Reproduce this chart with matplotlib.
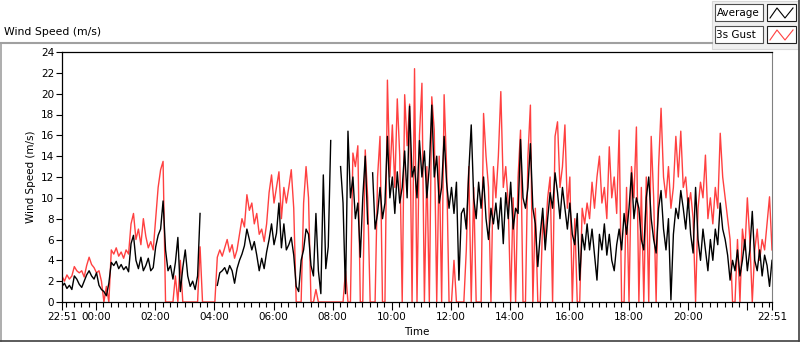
import numpy as np
import matplotlib
matplotlib.use('Agg')
import matplotlib.pyplot as plt
from matplotlib.lines import Line2D
from matplotlib.patches import Rectangle

plt.rcParams['font.family'] = 'DejaVu Sans'

nan = np.nan

# 5-minute samples starting 22:51
sample_minutes = 5

average = [
    1.5, 1.8, 1.3, 1.6, 1.2, 2.5, 2.2, 1.7, 1.4, 2.0,
    2.6, 3.0, 2.5, 2.2, 2.8, 1.6, 1.2, 1.0, 0.6, 1.8,
    3.8, 3.5, 3.9, 3.2, 3.6, 3.1, 3.4, 2.9, 5.6, 6.4,
    4.0, 3.2, 4.3, 3.0, 3.5, 4.2, 3.0, 3.3, 5.3, 6.4,
    7.0, 9.7, 5.0, 3.0, 3.5, 2.2, 3.8, 6.2, 1.0, 3.3,
    5.0, 2.5, 1.5, 2.0, 1.2, 2.5, 8.5, nan, nan, nan,
    nan, nan, nan, 1.6, 2.8, 3.0, 3.3, 2.7, 3.5, 3.0,
    1.8, 3.2, 4.0, 4.6, 5.4, 7.0, 6.0, 5.0, 5.8, 4.5,
    3.0, 4.2, 3.2, 4.8, 6.0, 7.5, 5.5, 6.6, 9.5, 5.2,
    7.5, 5.0, 5.5, 6.2, 4.5, 1.5, 1.0, 4.0, 5.0, 7.0,
    6.5, 3.5, 2.5, 8.5, 3.0, 0.8, 12.2, 3.2, 5.3, 15.5,
    nan, nan, nan, 13.0, 9.5, 0.8, 16.4, 10.0, 12.0, 8.0,
    9.5, 4.3, 10.0, 14.0, 7.5, nan, 12.4, 7.0, 8.5, 11.0,
    8.0, 9.5, 15.9, 10.0, 12.0, 8.5, 12.5, 9.5, 11.0, 14.5,
    10.0, 18.8, 12.0, 13.0, 10.0, 15.5, 12.0, 14.5, 10.0, 13.0,
    18.9, 12.0, 14.0, 9.5, 11.0, 15.9, 11.5, 9.0, 11.0, 8.5,
    11.5, 2.1, 8.5, 9.0, 7.0, 12.5, 17.0, 10.0, 8.0, 11.5,
    9.0, 12.0, 8.0, 6.0, 9.0, 7.5, 9.5, 7.0, 10.0, 5.6,
    10.5, 8.0, 11.5, 7.0, 9.0, 8.5, 15.6, 10.0, 9.0, 11.0,
    15.2, 9.0, 7.5, 3.4, 6.5, 9.0, 5.0, 8.0, 10.5, 9.0,
    12.4, 10.5, 8.0, 11.0, 9.0, 7.0, 9.5, 6.5, 5.5, 8.5,
    2.1, 6.5, 5.0, 7.5, 5.0, 7.0, 4.5, 2.1, 6.5, 5.0,
    7.5, 4.5, 6.5, 4.0, 3.0, 5.5, 7.0, 5.0, 8.5, 6.5,
    9.0, 12.4, 8.0, 10.0, 9.0, 6.0, 5.0, 10.0, 12.0, 8.0,
    6.0, 4.7, 9.0, 10.7, 7.0, 5.0, 8.0, 0.2, 6.5, 9.0,
    8.0, 10.7, 9.0, 7.0, 10.0, 6.5, 4.7, 11.0, 6.0, 4.0,
    7.0, 5.0, 3.0, 6.0, 4.0, 7.0, 5.5, 9.5, 7.0, 6.0,
    4.5, 2.1, 4.0, 3.0, 5.0, 2.5, 4.0, 6.0, 3.0, 5.0,
    8.7, 4.0, 3.0, 5.0, 2.5, 4.5, 3.5, 1.5, 4.0,
]

gust = [
    2.5, 2.0, 2.6, 2.2, 2.5, 3.4, 3.0, 2.8, 3.0, 2.4,
    3.5, 4.3, 3.6, 3.3, 2.8, 3.0, 2.0, 0.0, 1.5, 0.0,
    5.0, 4.6, 5.2, 4.4, 4.8, 4.2, 5.0, 4.6, 7.5, 8.5,
    6.0, 7.0, 5.5, 8.0, 6.3, 5.2, 5.8, 5.0, 8.0, 11.0,
    12.7, 13.5, 0.0, 0.0, 0.0, 0.0, 2.5, 0.0, 4.0, 0.0,
    0.0, 0.0, 0.0, 0.0, 0.0, 0.0, 5.3, 0.0, 0.0, 0.0,
    0.0, 0.0, 0.0, 4.3, 5.0, 4.4, 5.2, 6.0, 4.8, 5.5,
    4.2, 5.0, 6.5, 8.0, 7.2, 10.3, 8.8, 9.5, 7.5, 8.5,
    6.5, 7.0, 5.8, 7.5, 10.5, 12.2, 9.5, 11.0, 12.5, 8.0,
    11.0, 9.5, 11.0, 12.7, 9.0, 0.0, 0.0, 0.0, 9.5, 13.0,
    10.0, 0.0, 0.0, 1.2, 0.0, 0.0, 0.0, 0.0, 0.0, 0.0,
    0.0, 0.0, 0.0, 0.0, 0.0, 3.0, 0.0, 0.0, 14.3, 13.0,
    15.0, 0.0, 0.0, 14.6, 10.0, 0.0, 0.0, 0.0, 12.0, 15.9,
    0.0, 0.0, 21.3, 12.0, 17.0, 11.0, 19.5, 14.0, 0.0, 19.9,
    15.0, 19.0, 0.0, 22.4, 0.0, 16.0, 21.0, 0.0, 13.0, 0.0,
    19.7, 16.5, 0.0, 14.0, 0.0, 19.9, 13.0, 0.0, 0.0, 4.0,
    0.0, 0.0, 0.0, 0.0, 5.0, 13.0, 0.0, 11.0, 0.0, 0.0,
    0.0, 18.1, 14.0, 11.0, 0.0, 13.0, 10.0, 14.0, 20.2, 11.0,
    13.0, 9.5, 0.0, 10.0, 0.0, 12.0, 16.5, 0.0, 0.0, 14.0,
    18.9, 0.0, 9.0, 0.0, 0.0, 8.0, 6.0, 10.0, 12.0, 0.0,
    15.9, 17.3, 11.0, 13.0, 17.0, 9.0, 12.0, 0.0, 8.0, 0.0,
    0.0, 9.0, 7.5, 9.5, 8.0, 11.5, 9.0, 12.0, 14.0, 9.5,
    11.0, 8.0, 14.9, 10.0, 12.0, 8.5, 16.5, 0.0, 0.0, 11.0,
    0.0, 13.0, 10.0, 16.8, 0.0, 11.0, 0.0, 12.0, 0.0, 15.9,
    10.0, 0.0, 13.0, 18.6, 12.0, 10.0, 13.0, 9.0, 11.0, 15.9,
    12.0, 16.4, 11.0, 12.0, 9.0, 10.5, 8.0, 0.0, 9.0, 11.5,
    10.0, 14.1, 8.0, 10.0, 7.5, 11.0, 9.0, 16.2, 12.0, 10.0,
    8.0, 6.0, 0.0, 0.0, 6.0, 0.0, 7.0, 5.0, 10.0, 6.0,
    0.0, 5.0, 7.0, 4.0, 6.0, 5.0, 7.5, 10.1, 5.0,
]

start_time = '22:51'
tick_times = ['22:51', '00:00', '02:00', '04:00', '06:00', '08:00', '10:00',
              '12:00', '14:00', '16:00', '18:00', '20:00', '22:00', '22:51']
tick_labels = ['22:51', '00:00', '02:00', '04:00', '06:00', '08:00', '10:00',
               '12:00', '14:00', '16:00', '18:00', '20:00', '', '22:51']


def to_min(s):
    h, m = s.split(':')
    return int(h) * 60 + int(m)


t0 = to_min(start_time)
minutes = np.arange(len(average)) * sample_minutes
tick_pos = [(to_min(s) - t0) % 1440 for s in tick_times]
tick_pos[-1] = 1440
minor_pos = [m for m in range((60 - t0 % 60) % 15, 1440, 15) if m not in tick_pos]

W, H = 800, 342
fig = plt.figure(figsize=(W / 100, H / 100), dpi=100)
fig.patch.set_facecolor('white')

ax = fig.add_axes([62 / W, 1 - 302 / H, 710 / W, 250 / H])
ax.plot(minutes, gust, color='#ff4040', lw=1.0)
ax.plot(minutes, average, color='black', lw=1.0)

ax.set_xlim(0, 1440)
ax.set_ylim(0, 24)
ax.set_yticks(range(0, 25, 2))
ax.set_xticks(tick_pos)
ax.set_xticklabels(tick_labels)
ax.set_xticks(minor_pos, minor=True)
ax.tick_params(axis='both', labelsize=7.5, width=0.8, pad=1.5)
ax.tick_params(axis='y', length=4)
ax.tick_params(axis='x', which='major', length=6)
ax.tick_params(axis='x', which='minor', length=3.5, width=0.8)
for side in ['top', 'left', 'bottom']:
    ax.spines[side].set_linewidth(0.9)
ax.spines['right'].set_color('#808080')
ax.set_xlabel('Time', fontsize=7.5, labelpad=3)
ax.set_ylabel('Wind Speed (m/s)', fontsize=7.5, labelpad=4)

# chart frame and caption
fig.text(4 / W, 1 - 32 / H, 'Wind Speed (m/s)', fontsize=7.8, va='center')
fig.add_artist(Line2D([0, 712 / W], [1 - 42.5 / H] * 2, color='#a0a0a0', lw=1.5))
fig.add_artist(Line2D([1 / W] * 2, [1 - 42.5 / H, 1 - 340.5 / H], color='#a0a0a0', lw=1.2))
fig.add_artist(Line2D([0, 798.5 / W], [1 - 340.5 / H] * 2, color='#404040', lw=1.2))
fig.add_artist(Line2D([798.5 / W] * 2, [1 - 340.5 / H, 1], color='#404040', lw=1.2))

# legend panel
fig.add_artist(Rectangle((712 / W, 1 - 49 / H), 86 / W, 48 / H, transform=fig.transFigure,
                         facecolor='#f0f0f0', edgecolor='#d8d8d8', lw=0.8))
legend_rows = [('Average', 'black', 4), ('3s Gust', '#ff4040', 26)]
for name, col, top in legend_rows:
    y0 = 1 - (top + 17) / H
    fig.add_artist(Rectangle((715 / W, y0), 48 / W, 17 / H, transform=fig.transFigure,
                             facecolor='white', edgecolor='#505050', lw=0.8))
    fig.text(716.5 / W, y0 + 8.5 / H, name, fontsize=7.5, va='center')
    fig.add_artist(Rectangle((767 / W, y0), 29 / W, 17 / H, transform=fig.transFigure,
                             facecolor='white', edgecolor='#202020', lw=0.8))
    zx = [770, 777, 785, 793]
    zy = [top + 14, top + 4, top + 14, top + 4]
    fig.add_artist(Line2D([v / W for v in zx], [1 - v / H for v in zy], color=col, lw=0.8))

fig.savefig('out.png', dpi=100)
